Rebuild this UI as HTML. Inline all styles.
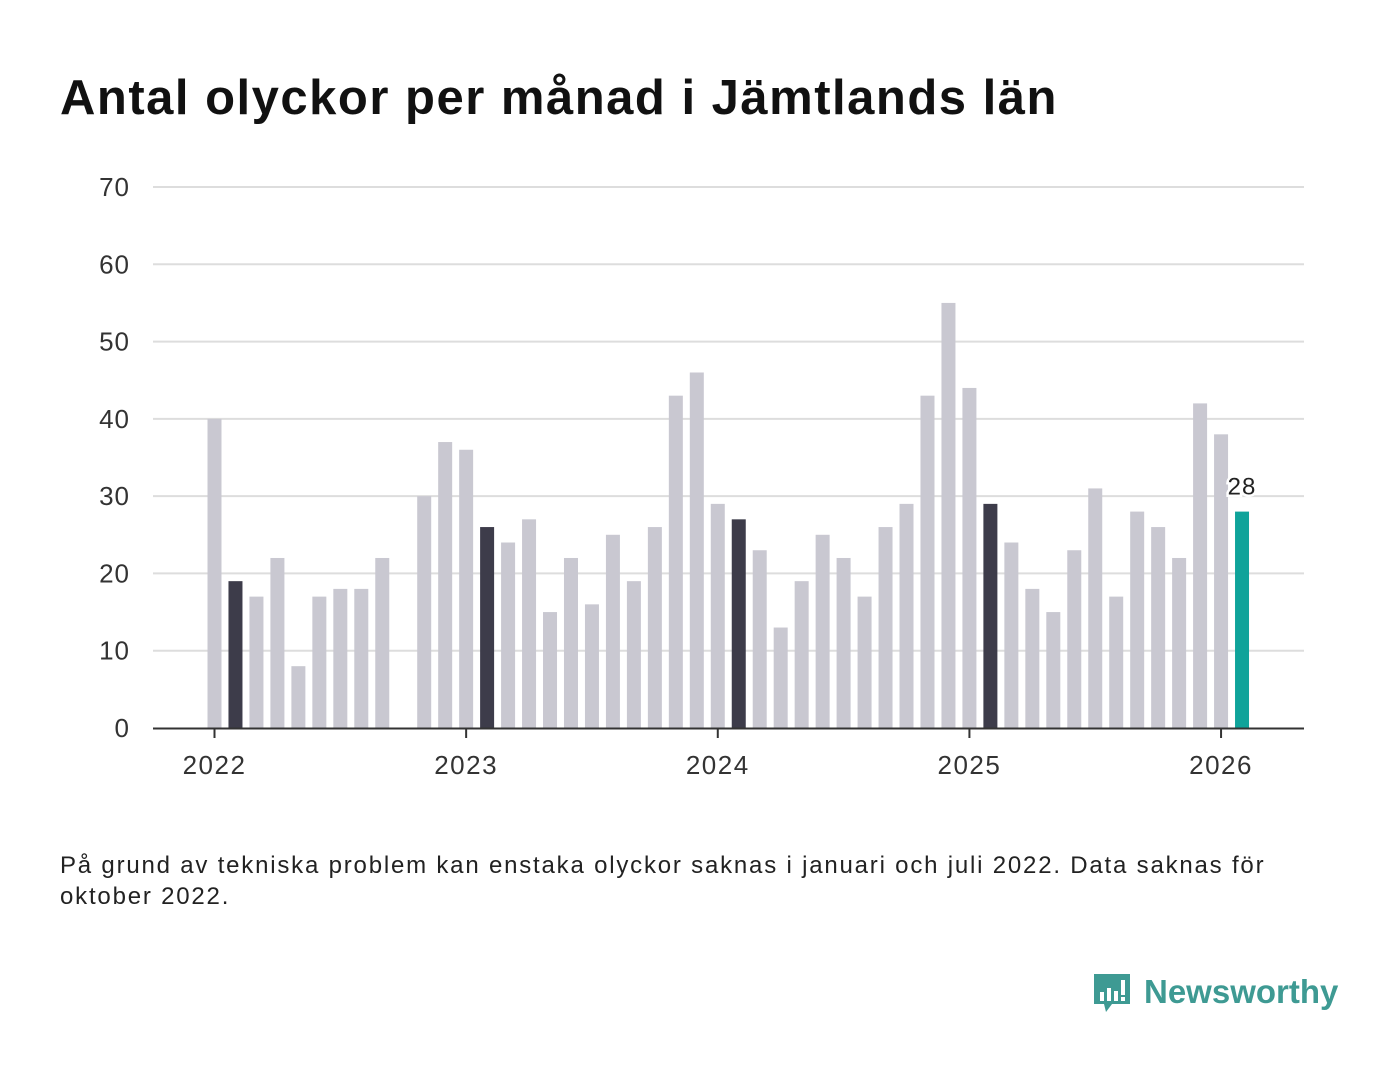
<!DOCTYPE html>
<html><head><meta charset="utf-8"><style>
body{margin:0;width:1400px;height:1080px;background:#fff;font-family:"Liberation Sans",sans-serif;position:relative;overflow:hidden}
h1{position:absolute;left:60px;top:70px;margin:0;font-size:49px;font-weight:bold;color:#111;letter-spacing:1.5px}
#note{position:absolute;left:60px;top:850px;width:1280px;font-size:24px;line-height:31px;color:#222;letter-spacing:1.8px}
#logo{position:absolute;left:1092px;top:972px}
</style></head><body>
<h1>Antal olyckor per månad i Jämtlands län</h1>
<svg id="chart" width="1400" height="820" style="position:absolute;left:0;top:0"></svg>
<div id="note">På grund av tekniska problem kan enstaka olyckor saknas i januari och juli 2022. Data saknas för oktober 2022.</div>
<div id="logo">
<svg width="260" height="50">
<path d="M2 2h36v30H20l-6 8-2-8H2z" fill="#3e9a93"/>
<rect x="8" y="20" width="4" height="9" fill="#fff"/><rect x="15" y="16" width="4" height="13" fill="#fff"/><rect x="22" y="19" width="4" height="10" fill="#fff"/><rect x="29" y="8" width="4" height="15" fill="#fff"/><rect x="29" y="25" width="4" height="4" fill="#fff"/>
<text x="52" y="31" font-family="Liberation Sans, sans-serif" font-size="33" font-weight="bold" fill="#3e9a93">Newsworthy</text>
</svg></div>
<script>
const months=["2022-01","2022-02","2022-03","2022-04","2022-05","2022-06","2022-07","2022-08","2022-09","2022-10","2022-11","2022-12","2023-01","2023-02","2023-03","2023-04","2023-05","2023-06","2023-07","2023-08","2023-09","2023-10","2023-11","2023-12","2024-01","2024-02","2024-03","2024-04","2024-05","2024-06","2024-07","2024-08","2024-09","2024-10","2024-11","2024-12","2025-01","2025-02","2025-03","2025-04","2025-05","2025-06","2025-07","2025-08","2025-09","2025-10","2025-11","2025-12","2026-01","2026-02"];
const values=[40,19,17,22,8,17,18,18,22,null,30,37,36,26,24,27,15,22,16,25,19,26,43,46,29,27,23,13,19,25,22,17,26,29,43,55,44,29,24,18,15,23,31,17,28,26,22,42,38,28];
const yTicks=[0,10,20,30,40,50,60,70];
const xTicks=["2022","2023","2024","2025","2026"];
const svg=document.getElementById('chart');const NS="http://www.w3.org/2000/svg";
const y=v=>728-v*(541/70);
const x=i=>214.5+i*20.97;
function mk(t,a){const e=document.createElementNS(NS,t);for(const k in a)e.setAttribute(k,a[k]);svg.appendChild(e);return e;}
yTicks.forEach(v=>{
 if(v>0){const g=mk('line',{x1:153,x2:1304,y1:y(v),y2:y(v),stroke:'#ddd','stroke-width':2});
 
 }
 const t=mk('text',{x:130,y:y(v)+9,'text-anchor':'end','font-size':26,'letter-spacing':1,fill:'#333'});t.textContent=v;
 
 
});
values.forEach((v,i)=>{
 if(v==null)return;
 const last=i===values.length-1;const feb=months[i].endsWith('-02');
 const r=mk('rect',{x:x(i)-7,y:y(v),width:14,height:728-y(v),fill:last?'#0fa39a':feb?'#3d3c4a':'#c9c8d1'});
 
 
 if(last){const t=mk('text',{x:x(i),y:y(v)-17,'text-anchor':'middle','font-size':24,'letter-spacing':1,fill:'#222',stroke:'#fff','stroke-width':5,'paint-order':'stroke'});t.textContent=v;
 
 }
});
const ax=mk('line',{x1:153,x2:1304,y1:728.5,y2:728.5,stroke:'#333','stroke-width':2});


xTicks.forEach(yr=>{
 const i=months.indexOf(yr+'-01');
 mk('line',{x1:x(i),x2:x(i),y1:729,y2:738,stroke:'#333','stroke-width':2});
 const t=mk('text',{x:x(i),y:774,'text-anchor':'middle','font-size':26,'letter-spacing':1.5,fill:'#333'});t.textContent=yr;
 
 
});
</script>
</body></html>
